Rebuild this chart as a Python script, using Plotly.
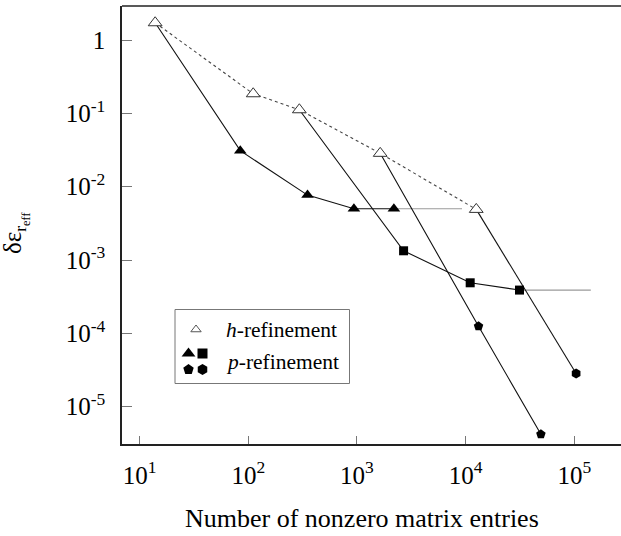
import plotly.graph_objects as go

# ---- data ----
h_x = [13.9, 111, 295, 1637, 12530]
h_y = [1.72, 0.185, 0.112, 0.0285, 0.0049]

p_tri_x = [84.4, 351, 938, 2188]
p_tri_y = [0.031, 0.00768, 0.0050, 0.0050]
p_tri_ext_x = [2188, 9270]
p_tri_ext_y = [0.0050, 0.0050]

p_sq_x = [2687, 11020, 31330]
p_sq_y = [0.001336, 0.000489, 0.000389]
p_sq_ext_x = [31330, 142000]
p_sq_ext_y = [0.000389, 0.000389]

p_pent_x = [13150, 49300]
p_pent_y = [0.000125, 4.2e-6]

p_hex_x = [104000]
p_hex_y = [2.84e-5]

x_tickvals = [10, 100, 1000, 10000, 100000]
x_ticktext = ["10<sup>1</sup>", "10<sup>2</sup>", "10<sup>3</sup>", "10<sup>4</sup>", "10<sup>5</sup>"]
y_tickvals = [1, 0.1, 0.01, 0.001, 0.0001, 0.00001]
y_ticktext = ["1", "10<sup>-1</sup>", "10<sup>-2</sup>", "10<sup>-3</sup>", "10<sup>-4</sup>", "10<sup>-5</sup>"]

FONT = "Liberation Serif"
W, H = 621, 536
L, R, T, B = 122, 0, 6, 92

fig = go.Figure()

line_blk = dict(color="#111", width=1.1)
gray = dict(color="#9a9a9a", width=1.1)

# gray extension lines
fig.add_trace(go.Scatter(x=p_tri_ext_x, y=p_tri_ext_y, mode="lines", line=gray))
fig.add_trace(go.Scatter(x=p_sq_ext_x, y=p_sq_ext_y, mode="lines", line=gray))

# p-refinement lines (start at corresponding h point)
fig.add_trace(go.Scatter(x=[h_x[0]] + p_tri_x, y=[h_y[0]] + p_tri_y, mode="lines", line=line_blk))
fig.add_trace(go.Scatter(x=[h_x[2]] + p_sq_x, y=[h_y[2]] + p_sq_y, mode="lines", line=line_blk))
fig.add_trace(go.Scatter(x=[h_x[3]] + p_pent_x, y=[h_y[3]] + p_pent_y, mode="lines", line=line_blk))
fig.add_trace(go.Scatter(x=[h_x[4]] + p_hex_x, y=[h_y[4]] + p_hex_y, mode="lines", line=line_blk))

# h-refinement dashed
fig.add_trace(go.Scatter(x=h_x, y=h_y, mode="lines",
                         line=dict(color="#444", width=1.1, dash="3px,3px")))

# markers
fig.add_trace(go.Scatter(x=p_tri_x, y=p_tri_y, mode="markers",
                         marker=dict(symbol="triangle-up", size=11, color="black")))
fig.add_trace(go.Scatter(x=p_sq_x, y=p_sq_y, mode="markers",
                         marker=dict(symbol="square", size=9, color="black")))
fig.add_trace(go.Scatter(x=p_pent_x, y=p_pent_y, mode="markers",
                         marker=dict(symbol="pentagon", size=10, color="black")))
fig.add_trace(go.Scatter(x=p_hex_x, y=p_hex_y, mode="markers",
                         marker=dict(symbol="hexagon", size=10, color="black")))
fig.add_trace(go.Scatter(x=h_x, y=h_y, mode="markers",
                         marker=dict(symbol="triangle-up", size=12, color="white",
                                     line=dict(color="#333", width=1))))

# ---- custom legend in a pixel-space overlay axis ----
lx0, ly0, lx1, ly1 = 175, 309.5, 349.5, 383.5
fig.add_trace(go.Scatter(x=[196], y=[329.5], mode="markers", xaxis="x2", yaxis="y2",
                         marker=dict(symbol="triangle-up", size=9, color="white",
                                     line=dict(color="#555", width=1))))
leg_sym = ["triangle-up", "square", "pentagon", "hexagon"]
leg_x = [188.5, 202.5, 188.5, 202.5]
leg_y = [353.5, 353.5, 369.5, 369.5]
leg_size = [12, 10, 11, 11]
for sx, sy, sm, sz in zip(leg_x, leg_y, leg_sym, leg_size):
    fig.add_trace(go.Scatter(x=[sx], y=[sy], mode="markers", xaxis="x2", yaxis="y2",
                             marker=dict(symbol=sm, size=sz, color="black",
                                         line=dict(width=0))))

fig.add_shape(type="rect", xref="x2", yref="y2", x0=lx0, y0=ly0, x1=lx1, y1=ly1,
              line=dict(color="#777", width=1), fillcolor="white", layer="below")

fig.add_annotation(xref="x2", yref="y2", x=224, y=329.5, text="<i>h</i>-refinement",
                   showarrow=False, xanchor="left", yanchor="middle",
                   font=dict(family=FONT, size=21.5, color="black"))
fig.add_annotation(xref="x2", yref="y2", x=224, y=361.5, text="<i>p</i>-refinement",
                   showarrow=False, xanchor="left", yanchor="middle",
                   font=dict(family=FONT, size=21.5, color="black"))

# axis titles
pw = W - L - R
ph = H - T - B
fig.add_annotation(xref="paper", yref="paper", x=(362 - L) / pw, y=(H - B - 518) / ph,
                   text="Number of nonzero matrix entries", showarrow=False,
                   xanchor="center", yanchor="middle",
                   font=dict(family=FONT, size=26, color="black"))
fig.add_annotation(xref="paper", yref="paper", x=(16 - L) / pw, y=(H - B - 233) / ph,
                   text="δε<sub>r<sub>eff</sub></sub>", showarrow=False, textangle=-90,
                   xanchor="center", yanchor="middle",
                   font=dict(family=FONT, size=25, color="black"))

fig.update_layout(
    width=W, height=H,
    margin=dict(l=L, r=R, t=T, b=B),
    paper_bgcolor="white", plot_bgcolor="white",
    showlegend=False,
    font=dict(family=FONT, color="black"),
    xaxis=dict(type="log", range=[0.838, 5.43], tickvals=x_tickvals, ticktext=x_ticktext,
               ticks="inside", ticklen=8, tickcolor="#777", tickwidth=1,
               showgrid=False, zeroline=False, showline=True, linecolor="#222", linewidth=1.5,
               mirror=False, tickfont=dict(family=FONT, size=25), ticklabelstandoff=8),
    yaxis=dict(type="log", range=[-5.509, 0.464], tickvals=y_tickvals, ticktext=y_ticktext,
               ticks="inside", ticklen=10, tickcolor="#777", tickwidth=1,
               showgrid=False, zeroline=False, showline=True, linecolor="#222", linewidth=1.5,
               tickfont=dict(family=FONT, size=25), ticklabelstandoff=10),
    xaxis2=dict(overlaying="x", range=[L, W - R], visible=False, fixedrange=True),
    yaxis2=dict(overlaying="y", range=[H - B, T], visible=False, fixedrange=True),
)
# top border
fig.add_shape(type="line", xref="paper", yref="paper", x0=0, x1=1, y0=1, y1=1,
              line=dict(color="#222", width=1.5))

fig.write_html("out.html")
